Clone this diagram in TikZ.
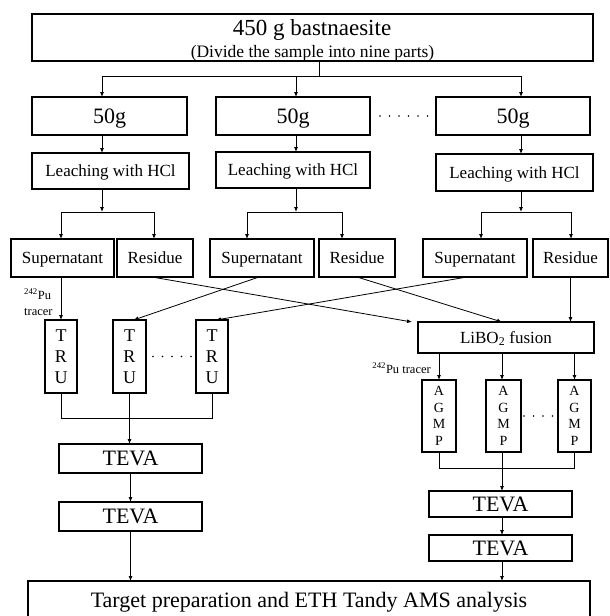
\documentclass[tikz,border=0pt]{standalone}
\usepackage{fontspec}
\setmainfont{Liberation Serif}
\usetikzlibrary{arrows.meta,calc}
\begin{document}
\begin{tikzpicture}[x=1pt,y=-1pt,
  box/.style={draw, line width=1.1pt, inner sep=0pt, outer sep=0pt, align=center},
  sz/.style 2 args={minimum width=#1pt, minimum height=#2pt},
  conn/.style={line width=0.8pt},
  arr/.style={conn, -{Latex[length=5pt,width=4pt]}},
  dotrow/.style={line width=1.7pt, line cap=round, dash pattern=on 0pt off 9.5pt},
  big/.style={font=\fontsize{22}{24}\selectfont, text height=19pt, text depth=4.5pt},
  mid/.style={font=\fontsize{17}{20}\selectfont, text height=15pt, text depth=4pt},
  col/.style={font=\fontsize{18}{21}\selectfont},
  small/.style={font=\fontsize{14}{16.7}\selectfont},
  tiny/.style={font=\fontsize{12.5}{16.5}\selectfont, inner sep=0pt},
  line/.style={inner sep=0pt, anchor=base}
]
\useasboundingbox (0,0) rectangle (610,616);

% sample and its nine parts
\node[box, sz={561}{47}] (top) at (312.5,37.5) {};
\node[line, font=\fontsize{23}{24}\selectfont] (ttl) at (312,35.5) {450 g bastnaesite};
\node[line, font=\fontsize{17.5}{19}\selectfont] (sub) at (312.5,57) {(Divide the sample into nine parts)};

\node[box, sz={155}{38}, big] (g1) at (109.5,116) {50g};
\node[box, sz={154}{38}, big] (g2) at (293,116) {50g};
\node[box, sz={154}{38}, big] (g3) at (513,116) {50g};

\node[box, sz={157}{36}, mid] (l1) at (110.5,171) {Leaching with HCl};
\node[box, sz={154}{36}, mid] (l2) at (293,170) {Leaching with HCl};
\node[box, sz={157}{37}, mid] (l3) at (514.5,172.5) {Leaching with HCl};

\node[box, sz={103}{38}, mid] (s1) at (62.5,258) {Supernatant};
\node[box, sz={76}{38}, mid]  (r1) at (155,258) {Residue};
\node[box, sz={104}{38}, mid] (s2) at (262,258) {Supernatant};
\node[box, sz={76}{38}, mid]  (r2) at (357,258) {Residue};
\node[box, sz={104}{38}, mid] (s3) at (475,258) {Supernatant};
\node[box, sz={75}{38}, mid]  (r3) at (570.5,258) {Residue};

% TRU columns
\node[box, sz={32}{73}, col] (t1) at (61,356.5) {T\\R\\U};
\node[box, sz={33}{73}, col] (t2) at (129.5,356.5) {T\\R\\U};
\node[box, sz={32}{73}, col] (t3) at (212,356.5) {T\\R\\U};

% fusion branch
\node[box, sz={176}{31}, mid] (lib) at (506,337.5) {LiBO\textsubscript{2} fusion};
\node[box, sz={34}{72}, small] (a1) at (439,416) {A\\G\\M\\P};
\node[box, sz={35}{72}, small] (a2) at (503.5,416) {A\\G\\M\\P};
\node[box, sz={33}{72}, small] (a3) at (574.5,416) {A\\G\\M\\P};

% TEVA columns
\node[box, sz={143}{29}, big] (v1) at (130.5,458.5) {TEVA};
\node[box, sz={143}{29}, big] (v2) at (130.5,516.5) {TEVA};
\node[box, sz={143}{26}, big] (v3) at (500.5,504) {TEVA};
\node[box, sz={143}{26}, big] (v4) at (500.5,548) {TEVA};

\node[box, sz={562}{38}, big] (fin) at (309,600) {Target preparation and ETH Tandy AMS analysis};

% tracer labels
\node[tiny, align=left, anchor=north west] (tr1) at (24,289) {\textsuperscript{242}Pu\\tracer};
\node[tiny, anchor=east] (tr2) at (431,368) {\textsuperscript{242}Pu tracer};

% split of the sample
\coordinate (j0) at (319,76);
\coordinate (b1) at (102,76);
\coordinate (b2) at (296,76);
\coordinate (b3) at (521,76);
\draw[conn] (top.south -| j0) -- (j0);
\draw[conn] (b1) -- (b3);
\draw[arr] (b1) -- (g1.north -| b1);
\draw[arr] (b2) -- (g2.north -| b2);
\draw[arr] (b3) -- (g3.north -| b3);
\draw[arr] (g1.south -| b1) -- (l1.north -| b1);
\draw[arr] (g2.south -| b2) -- (l2.north -| b2);
\draw[arr] (g3.south -| b3) -- (l3.north -| b3);
\draw[dotrow] ([xshift=10pt]g2.east) -- ([xshift=-1pt]g3.west);

% leaching splits
\coordinate (k1) at (102,212);
\coordinate (k2) at (296,212);
\coordinate (k3) at (521,212);
\coordinate (p1) at (61,212);  \coordinate (q1) at (154,212);
\coordinate (p2) at (247,212); \coordinate (q2) at (342,212);
\coordinate (p3) at (481,212); \coordinate (q3) at (571,212);
\draw[arr] (l1.south -| k1) -- (k1);
\draw[arr] (l2.south -| k2) -- (k2);
\draw[arr] (l3.south -| k3) -- (k3);
\draw[conn] (p1) -- (q1);
\draw[conn] (p2) -- (q2);
\draw[conn] (p3) -- (q3);
\draw[arr] (p1) -- (s1.north -| p1);
\draw[arr] (q1) -- (r1.north -| q1);
\draw[arr] (p2) -- (s2.north -| p2);
\draw[arr] (q2) -- (r2.north -| q2);
\draw[arr] (p3) -- (s3.north -| p3);
\draw[arr] (q3) -- (r3.north -| q3);

% supernatants to TRU, residues to fusion
\coordinate (m2) at (502,322);
\draw[arr] (s1.south -| t1.north) -- (t1.north);
\draw[arr] ([xshift=-3pt]s2.south) -- ([xshift=4pt]t2.north);
\draw[arr] ([xshift=-8pt]s3.south) -- ([xshift=4pt]t3.north);
\draw[arr] ([xshift=-3pt]r1.south) -- ([xshift=-6pt]lib.north west);
\draw[arr] (r2.south) -- (m2);
\draw[arr] (r3.south) -- (lib.north -| r3.south);
\draw[dotrow] ([xshift=7pt]t2.east) -- ([xshift=-1pt]t3.west);

% fusion to AGMP
\draw[arr] (lib.south -| a1.north) -- (a1.north);
\draw[arr] (lib.south -| m2) -- (a2.north -| m2);
\draw[arr] (lib.south -| a3.north) -- (a3.north);
\draw[dotrow] ([xshift=3pt]a2.east) -- ([xshift=-3pt]a3.west);

% collection of the TRU eluates
\coordinate (u1) at (61,418);
\coordinate (u3) at (212,418);
\draw[conn] (t1.south) -- (u1) -- (u3) -- (t3.south);
\draw[arr] (t2.south) -- (v1.north -| t2.south);
\draw[arr] (v1.south) -- (v2.north);
\draw[arr] (v2.south) -- (fin.north -| v2.south);

% collection of the AGMP eluates
\coordinate (w1) at (439,468);
\coordinate (w3) at (574.5,468);
\draw[conn] (a1.south) -- (w1) -- (w3) -- (a3.south);
\draw[arr] (a2.south -| m2) -- (v3.north -| m2);
\draw[arr] (v3.south -| m2) -- (v4.north -| m2);
\draw[arr] (v4.south -| m2) -- (fin.north -| m2);
\end{tikzpicture}
\end{document}
